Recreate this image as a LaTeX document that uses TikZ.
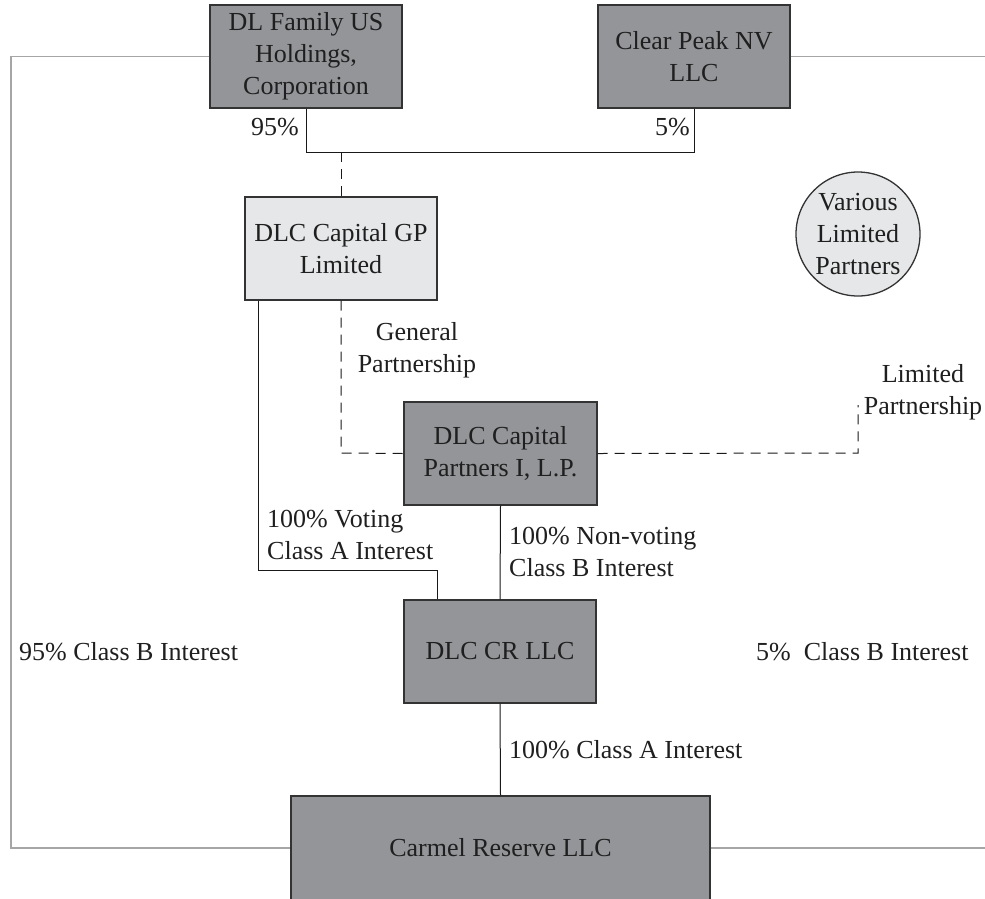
\documentclass[tikz,border=0pt]{standalone}
\usepackage{fontspec}
\setmainfont{Liberation Serif}
\begin{document}
\begin{tikzpicture}[x=1pt,y=-1pt,
  txt/.style={text=black!88, font=\fontsize{26}{32}\selectfont, inner sep=0pt, align=center},
  darkbox/.style={txt, draw=black!80, line width=1.3pt, fill=darkfill, minimum width=192pt, minimum height=103pt},
  lightbox/.style={txt, draw=black!80, line width=1.3pt, fill=lightfill, minimum width=192pt, minimum height=103pt},
  lbl/.style={txt},
  conn/.style={draw=black!90, line width=1pt},
  dconn/.style={conn, dash pattern=on 10pt off 7pt},
  outer/.style={draw=black!35, line width=1.3pt}
]
\definecolor{darkfill}{HTML}{939598}
\definecolor{lightfill}{HTML}{E6E7E8}
\useasboundingbox (0,0) rectangle (985,898);
\clip (0,0) rectangle (985,898);

% nodes
\node[darkbox] (dlf) at (306,56.5) {DL Family US\\Holdings,\\Corporation};
\node[darkbox] (cp) at (694,56.5) {Clear Peak NV\\LLC};
\node[lightbox] (gp) at (341,248.5) {DLC Capital GP\\Limited};
\node[txt, circle, draw=black!80, line width=1.3pt, fill=lightfill, minimum size=124pt] (vlp) at (858,234) {Various\\Limited\\Partners};
\node[darkbox, minimum width=193pt] (dcp) at (500.5,453.5) {DLC Capital\\Partners I, L.P.};
\node[darkbox] (dcr) at (500,651.5) {DLC CR LLC};
\node[darkbox, minimum width=419pt, minimum height=104pt] (cr) at (500.5,848) {Carmel Reserve LLC};

% coordinates for bends
\coordinate (j1) at (306,152);
\coordinate (j2) at (694,152);
\coordinate (jm) at (341,152);
\coordinate (v1) at (258,570);
\coordinate (v2) at (437,570);
\coordinate (g2) at (341,453);
\coordinate (l2) at (858,453);
\coordinate (l1) at (858,405);
\coordinate (o1) at (11,56.5);
\coordinate (o2) at (11,848);
\coordinate (o3) at (990,56.5);
\coordinate (o4) at (990,848);

% connectors
\draw[conn] (dlf.south) -- (j1) -- (j2) -- (cp.south);
\draw[dconn] (jm) -- (gp.north);
\draw[conn] (gp.south west -| v1) -- (v1) -- (v2) -- (dcr.north -| v2);
\draw[dconn] (gp.south) -- (g2) -- (dcp.west);
\draw[dconn] (dcp.east) -- (l2) -- (l1);
\draw[conn] (dcp.south) -- (dcr.north);
\draw[conn] (dcr.south) -- (cr.north);
\draw[outer] (dlf.west) -- (o1) -- (o2) -- (cr.west);
\draw[outer] (cp.east) -- (o3) -- (o4) -- (cr.east);

% labels
\node[lbl, anchor=east] (l95) at (299,127) {95\%};
\node[lbl, anchor=east] (l5) at (690,127) {5\%};
\node[lbl] (lgp) at (417,350) {General\\Partnership};
\node[lbl] (llp) at (923,392) {Limited\\Partnership};
\node[lbl, anchor=west, align=left] (lvot) at (267,535) {100\% Voting\\Class A Interest};
\node[lbl, anchor=west, align=left] (lnv) at (509,552) {100\% Non-voting\\Class B Interest};
\node[lbl, anchor=west] (l95b) at (19,652) {95\% Class B Interest};
\node[lbl, anchor=west] (l5b) at (756,652) {5\%\ \ Class B Interest};
\node[lbl, anchor=west] (l100a) at (509,750) {100\% Class A Interest};
\end{tikzpicture}
\end{document}
